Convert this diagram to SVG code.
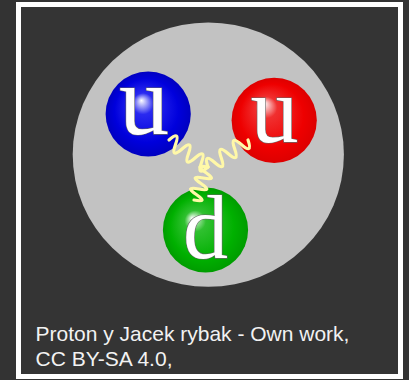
<svg xmlns="http://www.w3.org/2000/svg" width="409" height="380" viewBox="0 0 409 380">
  <defs>
    <radialGradient id="gBlue" cx="0.5" cy="0.5" r="0.5" fx="0.42" fy="0.34">
      <stop offset="0" stop-color="#ffffff"/>
      <stop offset="0.25" stop-color="#2a2af0"/>
      <stop offset="0.75" stop-color="#0000dc"/>
      <stop offset="1" stop-color="#0000c0"/>
    </radialGradient>
    <radialGradient id="gRed" cx="0.5" cy="0.5" r="0.5" fx="0.38" fy="0.3">
      <stop offset="0" stop-color="#ffffff"/>
      <stop offset="0.25" stop-color="#f03030"/>
      <stop offset="0.75" stop-color="#ee0000"/>
      <stop offset="1" stop-color="#dd0000"/>
    </radialGradient>
    <radialGradient id="gGreen" cx="0.5" cy="0.5" r="0.5" fx="0.34" fy="0.36">
      <stop offset="0" stop-color="#ffffff"/>
      <stop offset="0.25" stop-color="#30c030"/>
      <stop offset="0.75" stop-color="#00b000"/>
      <stop offset="1" stop-color="#009c00"/>
    </radialGradient>
  </defs>
  <style>
    .quark-letter { font-family: "Liberation Serif", "DejaVu Serif", serif; fill: #ffffff; stroke: #666666; stroke-width: 1.2; paint-order: stroke; text-anchor: middle; }
    .gluon { fill: none; stroke: #fff8a8; stroke-width: 3.2; stroke-linecap: round; stroke-linejoin: round; }
    .caption { font-family: "Liberation Sans", Arial, sans-serif; font-size: 21px; fill: #f2f2f2; }
  </style>

  <!-- page background and framed panel -->
  <rect x="0" y="0" width="409" height="380" fill="#333333"/>
  <rect x="18.5" y="4.5" width="382" height="372" fill="#343434" stroke="#ffffff" stroke-width="5"/>

  <!-- proton body -->
  <g id="proton">
    <ellipse cx="208.3" cy="154.6" rx="135.6" ry="132.2" fill="#c2c2c2"/>
  </g>

  <!-- up quark (blue) -->
  <g id="quark-u-blue">
    <circle cx="148.2" cy="114" r="42.6" fill="url(#gBlue)"/>
    <text class="quark-letter" x="144" y="134" font-size="100">u</text>
  </g>

  <!-- up quark (red) -->
  <g id="quark-u-red">
    <circle cx="274.2" cy="120.3" r="42.6" fill="url(#gRed)"/>
    <text class="quark-letter" x="274.5" y="141.5" font-size="96">u</text>
  </g>

  <!-- down quark (green) -->
  <g id="quark-d-green">
    <circle cx="205.5" cy="230" r="42.6" fill="url(#gGreen)"/>
    <text class="quark-letter" x="205.5" y="257.5" font-size="90">d</text>
  </g>

  <!-- gluon lines between quarks, drawn over the sphere edges -->
  <g id="gluons">
    <path class="gluon" d="M169,140 Q180.8,129.9 175.5,144.5 T182,149 T188.5,153.5 T195,158 T201.5,162.5 T208,167"/>
    <path class="gluon" d="M248,140 Q253.1,154.7 241.3,144.5 T234.7,149 T228,153.5 T221.3,158 T214.7,162.5 T208,167"/>
    <path class="gluon" d="M194,200 Q209,203.1 196.3,194.5 T198.7,189 T201,183.5 T203.3,178 T205.7,172.5 T208,167"/>
  </g>

  <!-- attribution caption -->
  <g id="caption">
    <text class="caption" x="35.5" y="340.5">Proton y Jacek rybak - Own work,</text>
    <text class="caption" x="35.5" y="365.5">CC BY-SA 4.0,</text>
  </g>
</svg>
